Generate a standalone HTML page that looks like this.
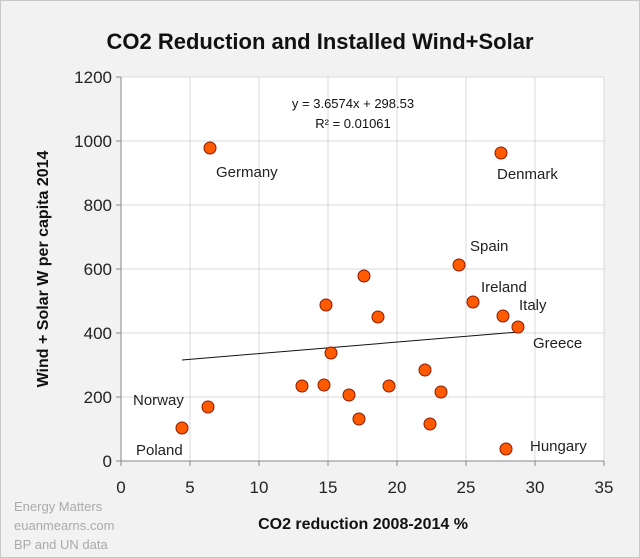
<!DOCTYPE html>
<html><head><style>
html,body{margin:0;padding:0;background:#fff}
svg{display:block}
text{font-family:"Liberation Sans",sans-serif}
</style></head><body>
<svg width="640" height="558" viewBox="0 0 640 558">
<rect x="0.5" y="0.5" width="639" height="557" fill="#f2f2f2" stroke="#c8c8c8"/>
<text x="320" y="49" text-anchor="middle" font-size="22" font-weight="bold" fill="#111">CO2 Reduction and Installed Wind+Solar</text>
<rect x="121" y="77" width="483" height="384" fill="#fff"/>
<g stroke="#d9d9d9" stroke-width="1">
<line x1="190" y1="77" x2="190" y2="461"/><line x1="259" y1="77" x2="259" y2="461"/>
<line x1="328" y1="77" x2="328" y2="461"/><line x1="397" y1="77" x2="397" y2="461"/>
<line x1="466" y1="77" x2="466" y2="461"/><line x1="535" y1="77" x2="535" y2="461"/>
<line x1="604" y1="77" x2="604" y2="461"/>
<line x1="121" y1="77" x2="604" y2="77"/><line x1="121" y1="141" x2="604" y2="141"/>
<line x1="121" y1="205" x2="604" y2="205"/><line x1="121" y1="269" x2="604" y2="269"/>
<line x1="121" y1="333" x2="604" y2="333"/><line x1="121" y1="397" x2="604" y2="397"/>
</g>
<g stroke="#888" stroke-width="1">
<line x1="121" y1="77" x2="121" y2="466"/><line x1="116" y1="461" x2="604" y2="461"/>
<line x1="116" y1="77" x2="121" y2="77"/><line x1="116" y1="141" x2="121" y2="141"/><line x1="116" y1="205" x2="121" y2="205"/><line x1="116" y1="269" x2="121" y2="269"/><line x1="116" y1="333" x2="121" y2="333"/><line x1="116" y1="397" x2="121" y2="397"/>
<line x1="190" y1="461" x2="190" y2="466"/><line x1="259" y1="461" x2="259" y2="466"/><line x1="328" y1="461" x2="328" y2="466"/><line x1="397" y1="461" x2="397" y2="466"/><line x1="466" y1="461" x2="466" y2="466"/><line x1="535" y1="461" x2="535" y2="466"/><line x1="604" y1="461" x2="604" y2="466"/>
</g>
<g font-size="17" fill="#222" text-anchor="end">
<text x="112" y="83">1200</text><text x="112" y="147">1000</text><text x="112" y="211">800</text><text x="112" y="275">600</text><text x="112" y="339">400</text><text x="112" y="403">200</text><text x="112" y="467">0</text>
</g>
<g font-size="17" fill="#222" text-anchor="middle">
<text x="121" y="493">0</text><text x="190" y="493">5</text><text x="259" y="493">10</text><text x="328" y="493">15</text><text x="397" y="493">20</text><text x="466" y="493">25</text><text x="535" y="493">30</text><text x="604" y="493">35</text>
</g>
<text x="363" y="529" text-anchor="middle" font-size="16" font-weight="bold" fill="#111">CO2 reduction 2008-2014 %</text>
<text transform="translate(48,269) rotate(-90)" text-anchor="middle" font-size="16" font-weight="bold" fill="#111">Wind + Solar W per capita 2014</text>
<g font-size="13" fill="#aaa"><text x="14" y="511">Energy Matters</text><text x="14" y="530">euanmearns.com</text><text x="14" y="549">BP and UN data</text></g>
<text x="353" y="108" text-anchor="middle" font-size="13" fill="#111">y = 3.6574x + 298.53</text>
<text x="353" y="128" text-anchor="middle" font-size="13" fill="#111">R² = 0.01061</text>
<line x1="182" y1="360" x2="518" y2="332" stroke="#111" stroke-width="1"/>
<g fill="#ff5a00" stroke="#8b1a00" stroke-width="1">
<circle cx="210" cy="148" r="6"/><circle cx="501" cy="153" r="6"/><circle cx="459" cy="265" r="6"/>
<circle cx="473" cy="302" r="6"/><circle cx="503" cy="316" r="6"/><circle cx="518" cy="327" r="6"/>
<circle cx="506" cy="449" r="6"/><circle cx="182" cy="428" r="6"/><circle cx="208" cy="407" r="6"/>
<circle cx="326" cy="305" r="6"/><circle cx="364" cy="276" r="6"/><circle cx="378" cy="317" r="6"/>
<circle cx="331" cy="353" r="6"/><circle cx="302" cy="386" r="6"/><circle cx="324" cy="385" r="6"/>
<circle cx="349" cy="395" r="6"/><circle cx="359" cy="419" r="6"/><circle cx="389" cy="386" r="6"/>
<circle cx="425" cy="370" r="6"/><circle cx="441" cy="392" r="6"/><circle cx="430" cy="424" r="6"/>
</g>
<g font-size="15" fill="#222">
<text x="216" y="177">Germany</text><text x="497" y="179">Denmark</text><text x="470" y="251">Spain</text>
<text x="481" y="292">Ireland</text><text x="519" y="310">Italy</text><text x="533" y="348">Greece</text>
<text x="530" y="451">Hungary</text><text x="136" y="455">Poland</text><text x="133" y="405">Norway</text>
</g>
</svg>
</body></html>
